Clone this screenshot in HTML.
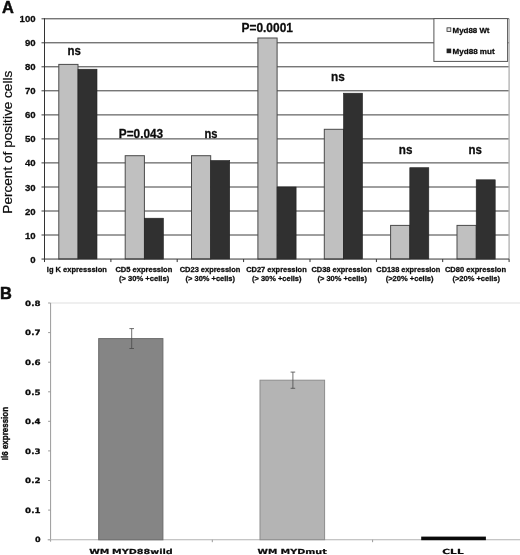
<!DOCTYPE html><html><head><meta charset="utf-8"><title>Figure</title><style>html,body{margin:0;padding:0;background:#fff}svg{display:block}text{font-family:"Liberation Sans",sans-serif;fill:#0c0c0c}.b,.v{stroke:#0c0c0c;stroke-width:.28px;stroke-linejoin:round}.b{font-weight:bold}.v{font-family:"DejaVu Sans","Liberation Sans",sans-serif;font-weight:bold}</style></head><body>
<svg width="520" height="555" viewBox="0 0 520 555">
<rect width="520" height="555" fill="#fff"/>
<line x1="41.5" y1="235.0" x2="509.1" y2="235.0" stroke="#3e3e3e" stroke-width="1"/>
<line x1="41.5" y1="211.0" x2="509.1" y2="211.0" stroke="#3e3e3e" stroke-width="1"/>
<line x1="41.5" y1="187.0" x2="509.1" y2="187.0" stroke="#3e3e3e" stroke-width="1"/>
<line x1="41.5" y1="162.9" x2="509.1" y2="162.9" stroke="#3e3e3e" stroke-width="1"/>
<line x1="41.5" y1="138.9" x2="509.1" y2="138.9" stroke="#3e3e3e" stroke-width="1"/>
<line x1="41.5" y1="114.9" x2="509.1" y2="114.9" stroke="#3e3e3e" stroke-width="1"/>
<line x1="41.5" y1="90.8" x2="509.1" y2="90.8" stroke="#3e3e3e" stroke-width="1"/>
<line x1="41.5" y1="66.8" x2="509.1" y2="66.8" stroke="#3e3e3e" stroke-width="1"/>
<line x1="41.5" y1="42.8" x2="509.1" y2="42.8" stroke="#3e3e3e" stroke-width="1"/>
<line x1="41.5" y1="18.8" x2="509.1" y2="18.8" stroke="#3e3e3e" stroke-width="1"/>
<line x1="509.1" y1="18.75" x2="509.1" y2="259.05" stroke="#b4b4b4" stroke-width="1.4"/>
<rect x="58.8" y="64.4" width="19.2" height="194.6" fill="#c0c0c0" stroke="#4a4a4a" stroke-width="1"/>
<rect x="78.0" y="69.2" width="19" height="189.8" fill="#303030" stroke="#222" stroke-width="0.6"/>
<rect x="125.2" y="155.7" width="19.2" height="103.3" fill="#c0c0c0" stroke="#4a4a4a" stroke-width="1"/>
<rect x="144.4" y="218.2" width="19" height="40.9" fill="#303030" stroke="#222" stroke-width="0.6"/>
<rect x="191.5" y="155.7" width="19.2" height="103.3" fill="#c0c0c0" stroke="#4a4a4a" stroke-width="1"/>
<rect x="210.7" y="160.5" width="19" height="98.5" fill="#303030" stroke="#222" stroke-width="0.6"/>
<rect x="257.9" y="38.0" width="19.2" height="221.1" fill="#c0c0c0" stroke="#4a4a4a" stroke-width="1"/>
<rect x="277.1" y="187.0" width="19" height="72.1" fill="#303030" stroke="#222" stroke-width="0.6"/>
<rect x="324.3" y="129.3" width="19.2" height="129.8" fill="#c0c0c0" stroke="#4a4a4a" stroke-width="1"/>
<rect x="343.5" y="93.2" width="19" height="165.8" fill="#303030" stroke="#222" stroke-width="0.6"/>
<rect x="390.6" y="225.4" width="19.2" height="33.6" fill="#c0c0c0" stroke="#4a4a4a" stroke-width="1"/>
<rect x="409.8" y="167.7" width="19" height="91.3" fill="#303030" stroke="#222" stroke-width="0.6"/>
<rect x="457.0" y="225.4" width="19.2" height="33.6" fill="#c0c0c0" stroke="#4a4a4a" stroke-width="1"/>
<rect x="476.2" y="179.8" width="19" height="79.3" fill="#303030" stroke="#222" stroke-width="0.6"/>
<line x1="44.5" y1="18.25" x2="44.5" y2="262.05" stroke="#333" stroke-width="1"/>
<line x1="41.5" y1="259.05" x2="509.1" y2="259.05" stroke="#333" stroke-width="1"/>
<line x1="110.9" y1="259.05" x2="110.9" y2="262.05" stroke="#333" stroke-width="1"/>
<line x1="177.2" y1="259.05" x2="177.2" y2="262.05" stroke="#333" stroke-width="1"/>
<line x1="243.6" y1="259.05" x2="243.6" y2="262.05" stroke="#333" stroke-width="1"/>
<line x1="310.0" y1="259.05" x2="310.0" y2="262.05" stroke="#333" stroke-width="1"/>
<line x1="376.4" y1="259.05" x2="376.4" y2="262.05" stroke="#333" stroke-width="1"/>
<line x1="442.7" y1="259.05" x2="442.7" y2="262.05" stroke="#333" stroke-width="1"/>
<line x1="509.1" y1="259.05" x2="509.1" y2="262.05" stroke="#333" stroke-width="1"/>
<text class="b" x="35.6" y="262.6" font-size="9.6" text-anchor="end">0</text>
<text class="b" x="35.6" y="238.5" font-size="9.6" text-anchor="end">10</text>
<text class="b" x="35.6" y="214.5" font-size="9.6" text-anchor="end">20</text>
<text class="b" x="35.6" y="190.5" font-size="9.6" text-anchor="end">30</text>
<text class="b" x="35.6" y="166.4" font-size="9.6" text-anchor="end">40</text>
<text class="b" x="35.6" y="142.4" font-size="9.6" text-anchor="end">50</text>
<text class="b" x="35.6" y="118.4" font-size="9.6" text-anchor="end">60</text>
<text class="b" x="35.6" y="94.3" font-size="9.6" text-anchor="end">70</text>
<text class="b" x="35.6" y="70.3" font-size="9.6" text-anchor="end">80</text>
<text class="b" x="35.6" y="46.3" font-size="9.6" text-anchor="end">90</text>
<text class="b" x="35.6" y="22.2" font-size="9.6" text-anchor="end">100</text>
<text transform="translate(12.3,213.7) rotate(-90)" font-size="13.7" stroke="#0c0c0c" stroke-width="0.2" textLength="143" lengthAdjust="spacingAndGlyphs">Percent of positive cells</text>
<text class="b" style="stroke-width:.5px" x="2.0" y="13.25" font-size="16.4">A</text>
<text class="b" style="stroke-width:.5px" x="0" y="298.5" font-size="16.4">B</text>
<text class="b" x="67.6" y="55" font-size="12.9" textLength="13.4" lengthAdjust="spacingAndGlyphs">ns</text>
<text class="b" x="118.8" y="137.5" font-size="12.9" textLength="44.4" lengthAdjust="spacingAndGlyphs">P=0.043</text>
<text class="b" x="204.5" y="137.5" font-size="12.9" textLength="13.0" lengthAdjust="spacingAndGlyphs">ns</text>
<text class="b" x="241.5" y="31.6" font-size="12.9" textLength="51.4" lengthAdjust="spacingAndGlyphs">P=0.0001</text>
<text class="b" x="331" y="81.2" font-size="12.9" textLength="13.8" lengthAdjust="spacingAndGlyphs">ns</text>
<text class="b" x="398.8" y="154" font-size="12.9" textLength="13.6" lengthAdjust="spacingAndGlyphs">ns</text>
<text class="b" x="468.6" y="154" font-size="12.9" textLength="13.4" lengthAdjust="spacingAndGlyphs">ns</text>
<text class="b" x="46.8" y="271.8" font-size="7.7" textLength="60.0" lengthAdjust="spacingAndGlyphs">Ig K expresssion</text>
<text class="b" x="115.4" y="271.8" font-size="7.7" textLength="56.9" lengthAdjust="spacingAndGlyphs">CD5 expression</text>
<text class="b" x="119" y="280.8" font-size="7.7" textLength="50.2" lengthAdjust="spacingAndGlyphs">(&gt; 30% +cells)</text>
<text class="b" x="179.7" y="271.8" font-size="7.7" textLength="60.6" lengthAdjust="spacingAndGlyphs">CD23 expression</text>
<text class="b" x="185.6" y="280.8" font-size="7.7" textLength="49.4" lengthAdjust="spacingAndGlyphs">(&gt; 30% +cells)</text>
<text class="b" x="246.2" y="271.8" font-size="7.7" textLength="60.5" lengthAdjust="spacingAndGlyphs">CD27 expression</text>
<text class="b" x="252" y="280.8" font-size="7.7" textLength="49.5" lengthAdjust="spacingAndGlyphs">(&gt; 30% +cells)</text>
<text class="b" x="311.5" y="271.8" font-size="7.7" textLength="60.3" lengthAdjust="spacingAndGlyphs">CD38 expression</text>
<text class="b" x="317.5" y="280.8" font-size="7.7" textLength="49.5" lengthAdjust="spacingAndGlyphs">(&gt; 30% +cells)</text>
<text class="b" x="376.3" y="271.8" font-size="7.7" textLength="64.1" lengthAdjust="spacingAndGlyphs">CD138 expression</text>
<text class="b" x="385.7" y="280.8" font-size="7.7" textLength="47.8" lengthAdjust="spacingAndGlyphs">(&gt;20% +cells)</text>
<text class="b" x="444.9" y="271.8" font-size="7.7" textLength="61.2" lengthAdjust="spacingAndGlyphs">CD80 expression</text>
<text class="b" x="452.5" y="280.8" font-size="7.7" textLength="47.5" lengthAdjust="spacingAndGlyphs">(&gt;20% +cells)</text>
<rect x="433.9" y="18.6" width="73.7" height="42.8" fill="#fff" stroke="#555" stroke-width="1"/>
<rect x="447" y="27.8" width="3.8" height="3.8" fill="#e8e8e8" stroke="#333" stroke-width="0.8"/>
<rect x="446.6" y="48.6" width="4.6" height="4.6" fill="#222"/>
<text class="b" x="452.6" y="32.9" font-size="8" textLength="36.9" lengthAdjust="spacingAndGlyphs">Myd88 Wt</text>
<text class="b" x="452.6" y="54.1" font-size="8" textLength="42" lengthAdjust="spacingAndGlyphs">Myd88 mut</text>
<line x1="50.6" y1="303.0" x2="520" y2="303.0" stroke="#e0e0e0" stroke-width="1.2"/>
<line x1="50.6" y1="303.0" x2="50.6" y2="541.7" stroke="#9a9a9a" stroke-width="1"/>
<line x1="48.1" y1="539.7" x2="50.6" y2="539.7" stroke="#9a9a9a" stroke-width="1"/>
<text class="v" x="34.9" y="542.4" font-size="7.4" textLength="5.6" lengthAdjust="spacingAndGlyphs">0</text>
<line x1="48.1" y1="510.1" x2="50.6" y2="510.1" stroke="#9a9a9a" stroke-width="1"/>
<text class="v" x="25.1" y="512.8" font-size="7.4" textLength="15.4" lengthAdjust="spacingAndGlyphs">0.1</text>
<line x1="48.1" y1="480.5" x2="50.6" y2="480.5" stroke="#9a9a9a" stroke-width="1"/>
<text class="v" x="25.1" y="483.2" font-size="7.4" textLength="15.4" lengthAdjust="spacingAndGlyphs">0.2</text>
<line x1="48.1" y1="450.9" x2="50.6" y2="450.9" stroke="#9a9a9a" stroke-width="1"/>
<text class="v" x="25.1" y="453.6" font-size="7.4" textLength="15.4" lengthAdjust="spacingAndGlyphs">0.3</text>
<line x1="48.1" y1="421.3" x2="50.6" y2="421.3" stroke="#9a9a9a" stroke-width="1"/>
<text class="v" x="25.1" y="424.0" font-size="7.4" textLength="15.4" lengthAdjust="spacingAndGlyphs">0.4</text>
<line x1="48.1" y1="391.8" x2="50.6" y2="391.8" stroke="#9a9a9a" stroke-width="1"/>
<text class="v" x="25.1" y="394.5" font-size="7.4" textLength="15.4" lengthAdjust="spacingAndGlyphs">0.5</text>
<line x1="48.1" y1="362.2" x2="50.6" y2="362.2" stroke="#9a9a9a" stroke-width="1"/>
<text class="v" x="25.1" y="364.9" font-size="7.4" textLength="15.4" lengthAdjust="spacingAndGlyphs">0.6</text>
<line x1="48.1" y1="332.6" x2="50.6" y2="332.6" stroke="#9a9a9a" stroke-width="1"/>
<text class="v" x="25.1" y="335.3" font-size="7.4" textLength="15.4" lengthAdjust="spacingAndGlyphs">0.7</text>
<line x1="48.1" y1="303.0" x2="50.6" y2="303.0" stroke="#9a9a9a" stroke-width="1"/>
<text class="v" x="25.1" y="305.7" font-size="7.4" textLength="15.4" lengthAdjust="spacingAndGlyphs">0.8</text>
<line x1="47.6" y1="539.7" x2="520" y2="539.7" stroke="#b2b2b2" stroke-width="1.1"/>
<line x1="212.3" y1="539.7" x2="212.3" y2="542.2" stroke="#9a9a9a" stroke-width="1"/>
<line x1="372.6" y1="539.7" x2="372.6" y2="542.2" stroke="#9a9a9a" stroke-width="1"/>
<rect x="98.7" y="338.6" width="64.2" height="201.2" fill="#858585" stroke="#6a6a6a" stroke-width="1"/>
<rect x="260" y="380.2" width="64.6" height="159.5" fill="#b4b4b4" stroke="#8c8c8c" stroke-width="1"/>
<rect x="421.2" y="536.6" width="64.7" height="3.6" fill="#0a0a0a"/>
<path d="M131.7 328.6V348.5M129.39999999999998 328.6H134.0M129.39999999999998 348.5H134.0" stroke="#4a4a4a" stroke-width="0.8" fill="none"/>
<path d="M292.9 372.1V388.3M290.59999999999997 372.1H295.2M290.59999999999997 388.3H295.2" stroke="#4a4a4a" stroke-width="0.8" fill="none"/>
<text class="v" y="553.5" font-size="7" style="stroke-width:.2px"><tspan x="89.2" textLength="20.2" lengthAdjust="spacingAndGlyphs">WM</tspan> <tspan x="112.1" textLength="60.7" lengthAdjust="spacingAndGlyphs">MYD88wild</tspan></text>
<text class="v" y="553.5" font-size="7" style="stroke-width:.2px"><tspan x="257.6" textLength="19.8" lengthAdjust="spacingAndGlyphs">WM</tspan> <tspan x="280.5" textLength="46.4" lengthAdjust="spacingAndGlyphs">MYDmut</tspan></text>
<text class="v" x="442.3" y="553.7" font-size="7" style="stroke-width:.2px" textLength="21.4" lengthAdjust="spacingAndGlyphs">CLL</text>
<text class="b" style="stroke-width:.36px" transform="translate(8.2,460.2) rotate(-90)" font-size="9.6" textLength="53.3" lengthAdjust="spacingAndGlyphs">Il6 expression</text>
</svg></body></html>
